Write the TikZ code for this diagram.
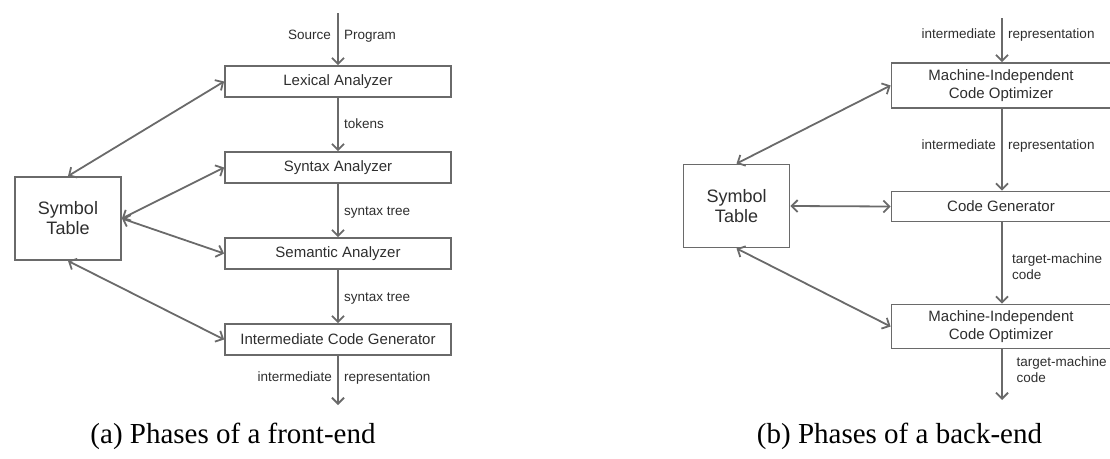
\documentclass[tikz,border=0pt]{standalone}
\usepackage{fontspec}
\setmainfont{Liberation Sans}
\newfontfamily\capfont{Liberation Serif}
\usetikzlibrary{arrows.meta}
\definecolor{edgegray}{HTML}{6A6A6A}
\definecolor{textgray}{HTML}{2E2E2E}
\tikzset{
  phase/.style={draw=edgegray, line width=1.8pt, rectangle, inner sep=0pt,
    text=textgray, align=center, font=\fontsize{15}{17.3}\selectfont},
  symtab/.style={phase, font=\fontsize{18}{20}\selectfont,
    minimum width=106pt, minimum height=83pt},
  flow/.style={draw=edgegray, line width=1.8pt,
    -{Straight Barb[length=6pt,width=12pt]}},
  link/.style={draw=edgegray, line width=1.8pt,
    {Straight Barb[length=6pt,width=12pt]}-{Straight Barb[length=6pt,width=12pt]}},
  lbl/.style={text=textgray, inner sep=0pt, align=left,
    font=\fontsize{13.5}{16}\selectfont},
  caption/.style={inner sep=0pt, font=\capfont\fontsize{29}{32}\selectfont}
}
\begin{document}
\begin{tikzpicture}[x=1pt, y=-1pt]
\useasboundingbox (0,0) rectangle (1110,458);
\clip (0,0) rectangle (1110,458);

% ---------- front-end ----------
\node[phase, minimum width=226pt, minimum height=31pt] (lex) at (338,81.5) {Lexical Analyzer};
\node[phase, minimum width=226pt, minimum height=31pt] (syn) at (338,167.5) {Syntax Analyzer};
\node[phase, minimum width=226pt, minimum height=31pt] (sem) at (338,253.5) {Semantic Analyzer};
\node[phase, minimum width=226pt, minimum height=31pt] (icg) at (338,339.5) {Intermediate Code Generator};
\node[symtab] (stA) at (68,218.5) {Symbol\\Table};

\coordinate (inA) at (338,13);
\coordinate (outA) at (338,405);

\draw[flow] (inA) -- (lex.north);
\draw[flow] (lex.south) -- (syn.north);
\draw[flow] (syn.south) -- (sem.north);
\draw[flow] (sem.south) -- (icg.north);
\draw[flow] (icg.south) -- (outA);

\draw[link] (stA.north) -- (lex.west);
\draw[link] (stA.east) -- (syn.west);
\draw[link] (stA.east) -- (sem.west);
\draw[link] (stA.south) -- (icg.west);

\node[lbl, anchor=mid east] (srcA) at (331,37) {Source};
\node[lbl, anchor=mid west] (prgA) at (344,37) {Program};
\node[lbl, anchor=mid west] (tokA) at (344,126) {tokens};
\node[lbl, anchor=mid west] (stA1) at (344,213) {syntax tree};
\node[lbl, anchor=mid west] (stA2) at (344,299) {syntax tree};
\node[lbl, anchor=mid east] (imA) at (332,379) {intermediate};
\node[lbl, anchor=mid west] (reA) at (344,379) {representation};

\node[caption] (capA) at (233,436) {(a) Phases of a front-end};

% ---------- back-end ----------
\node[phase, minimum width=219pt, minimum height=45pt] (mio1) at (1001,85.5) {Machine-Independent\\Code Optimizer};
\node[phase, minimum width=219pt, minimum height=30pt] (cg) at (1001,206.5) {Code Generator};
\node[phase, minimum width=219pt, minimum height=44pt] (mio2) at (1001,326.5) {Machine-Independent\\Code Optimizer};
\node[symtab] (stB) at (736.5,206) {Symbol\\Table};

\coordinate (inB) at (1002,18);
\coordinate (outB) at (1002,400);

\draw[flow] (inB) -- (1002,0 |- mio1.north);
\draw[flow] (1002,0 |- mio1.south) -- (1002,0 |- cg.north);
\draw[flow] (1002,0 |- cg.south) -- (1002,0 |- mio2.north);
\draw[flow] (1002,0 |- mio2.south) -- (outB);

\draw[link] (stB.north) -- (mio1.west);
\draw[link] (stB.east) -- (cg.west);
\draw[link] (stB.south) -- (mio2.west);

\node[lbl, anchor=mid east] (imB1) at (996,35.5) {intermediate};
\node[lbl, anchor=mid west] (reB1) at (1008,35.5) {representation};
\node[lbl, anchor=mid east] (imB2) at (996,146.5) {intermediate};
\node[lbl, anchor=mid west] (reB2) at (1008,146.5) {representation};
\node[lbl, anchor=west] (tmB1) at (1012,266.5) {target-machine\\code};
\node[lbl, anchor=west] (tmB2) at (1016.5,369.5) {target-machine\\code};

\node[caption] (capB) at (899.5,436) {(b) Phases of a back-end};
\end{tikzpicture}
\end{document}
